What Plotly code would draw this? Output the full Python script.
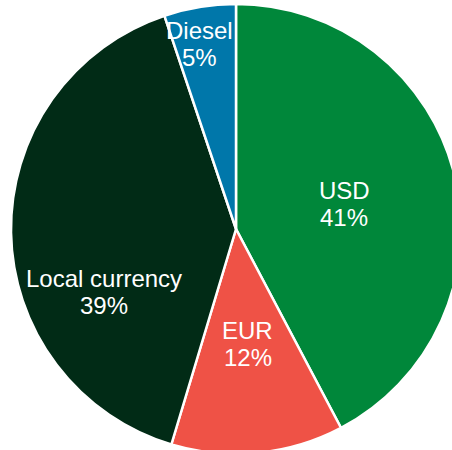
import plotly.graph_objects as go

# Currency split of costs
labels = ["USD", "EUR", "Local currency", "Diesel"]
values = [41, 12, 39, 5]
colors = ["#00873A", "#EF5246", "#012B16", "#0077AA"]

# Label anchor points in pixels (figure canvas), one per slice
label_px = [(344, 204), (248, 344), (104, 292), (199, 44)]

W, H = 472, 458
M = dict(l=11, r=11, t=4, b=4)
plot_w = W - M["l"] - M["r"]
plot_h = H - M["t"] - M["b"]
FONT = "Liberation Sans, Arial, sans-serif"
LINE_GAP = 27

fig = go.Figure(
    go.Pie(
        labels=labels,
        values=values,
        sort=False,
        direction="clockwise",
        rotation=0,
        marker=dict(colors=colors, line=dict(color="white", width=2.5)),
        textinfo="none",
        hoverinfo="label+value",
        showlegend=False,
    )
)

for name, val, (px, py) in zip(labels, values, label_px):
    x = (px - M["l"]) / plot_w
    y = 1 - (py - M["t"]) / plot_h
    for text, shift in ((name, LINE_GAP / 2), (f"{val}%", -LINE_GAP / 2)):
        fig.add_annotation(
            x=x, y=y, xref="paper", yref="paper",
            text=text, showarrow=False,
            xanchor="center", yanchor="middle", yshift=shift,
            font=dict(family=FONT, size=24, color="white"),
        )

fig.update_layout(
    width=W,
    height=H,
    margin=M,
    paper_bgcolor="white",
    plot_bgcolor="white",
)

fig.write_html(
    "out.html",
    post_script="document.body.style.margin='0';document.body.style.overflow='hidden';",
)
